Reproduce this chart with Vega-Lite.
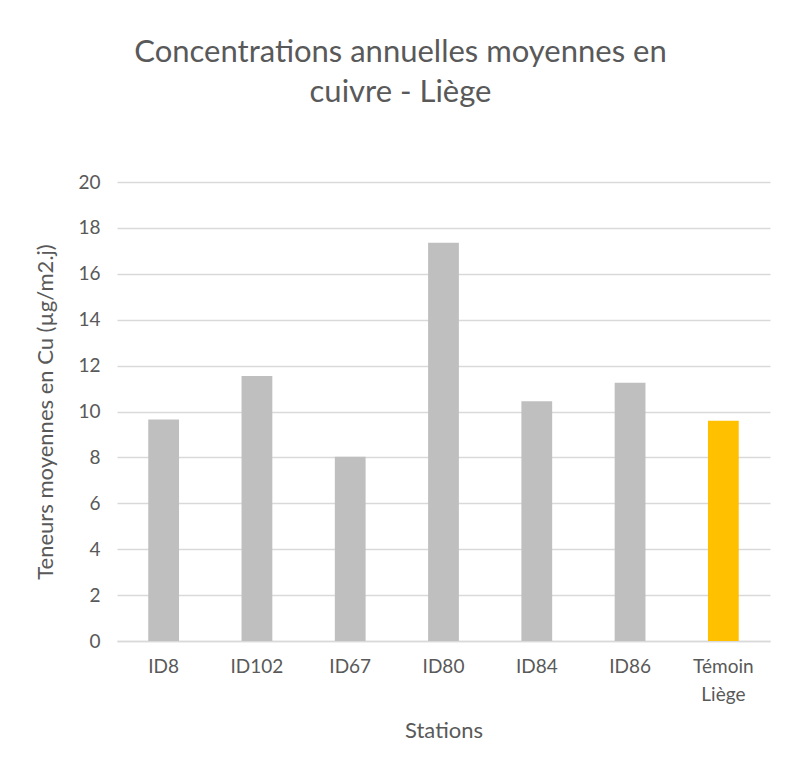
{
  "$schema": "https://vega.github.io/schema/vega-lite/v6.json",
  "width": 653,
  "height": 459,
  "autosize": "none",
  "padding": {"left": 117, "top": 182, "right": 19, "bottom": 127},
  "background": "white",
  "title": {
    "text": ["Concentrations annuelles moyennes en", "cuivre - Liège"],
    "font": "Lato",
    "fontSize": 31,
    "fontWeight": "normal",
    "color": "#595959",
    "lineHeight": 40,
    "offset": 64,
    "dx": -43,
    "anchor": "middle"
  },
  "data": {
    "values": [
      {"station": "ID8", "value": 9.65, "type": "site"},
      {"station": "ID102", "value": 11.55, "type": "site"},
      {"station": "ID67", "value": 8.03, "type": "site"},
      {"station": "ID80", "value": 17.35, "type": "site"},
      {"station": "ID84", "value": 10.45, "type": "site"},
      {"station": "ID86", "value": 11.25, "type": "site"},
      {"station": "Témoin Liège", "value": 9.6, "type": "temoin"}
    ]
  },
  "mark": {"type": "bar"},
  "encoding": {
    "x": {
      "field": "station",
      "type": "nominal",
      "sort": null,
      "scale": {"paddingInner": 0.67, "paddingOuter": 0.335},
      "axis": {
        "title": "Stations",
        "labelAngle": 0,
        "labelExpr": "datum.value == 'Témoin Liège' ? ['Témoin', 'Liège'] : datum.value",
        "labelFont": "Lato",
        "labelFontSize": 19,
        "labelColor": "#595959",
        "labelPadding": 16,
        "labelLineHeight": 28,
        "ticks": false,
        "domainColor": "#d9d9d9",
        "domainWidth": 1.5,
        "titleFont": "Lato",
        "titleFontSize": 22,
        "titleFontWeight": "normal",
        "titleColor": "#595959",
        "titlePadding": 16
      }
    },
    "y": {
      "field": "value",
      "type": "quantitative",
      "scale": {"domain": [0, 20]},
      "axis": {
        "title": "Teneurs moyennes en Cu (µg/m2.j)",
        "values": [0, 2, 4, 6, 8, 10, 12, 14, 16, 18, 20],
        "labelFont": "Lato",
        "labelFontSize": 19,
        "labelColor": "#595959",
        "labelPadding": 17,
        "ticks": false,
        "domain": false,
        "gridColor": "#d9d9d9",
        "gridWidth": 1.5,
        "titleFont": "Lato",
        "titleFontSize": 22,
        "titleFontWeight": "normal",
        "titleColor": "#595959",
        "titlePadding": 20
      }
    },
    "color": {
      "field": "type",
      "type": "nominal",
      "scale": {"domain": ["site", "temoin"], "range": ["#bfbfbf", "#ffc000"]},
      "legend": null
    }
  },
  "config": {"view": {"stroke": null}}
}
